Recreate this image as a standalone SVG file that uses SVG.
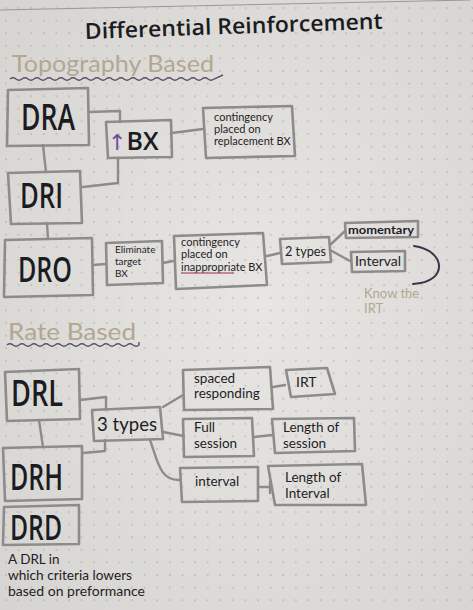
<svg xmlns="http://www.w3.org/2000/svg" width="473" height="610" viewBox="0 0 473 610">
<defs>
<pattern id="dots" width="12.6" height="12.6" patternUnits="userSpaceOnUse" x="4" y="6">
<circle cx="2" cy="2" r="0.8" fill="#aaa6a2"/>
</pattern>
<radialGradient id="bg" cx="0.55" cy="0.5" r="0.75">
<stop offset="0" stop-color="#e8e6e3"/>
<stop offset="1" stop-color="#d6d4d1"/>
</radialGradient>
<style>
.box{fill:none;stroke:#8d8c8a;stroke-width:2.6;stroke-linejoin:round}
.ln{fill:none;stroke:#8d8c8a;stroke-width:2.4;stroke-linecap:round;stroke-linejoin:round}
.big{font-family:"Open Sans","Liberation Sans",sans-serif;font-weight:600;fill:#1b1b22}
.sm{font-family:Lato,"Open Sans",sans-serif;fill:#1d1d26}
.md{font-family:Lato,"Open Sans",sans-serif;fill:#1d1d26}
.tan{font-family:Lato,"Open Sans",sans-serif;fill:#b2a792}
.wave{fill:none;stroke:#5e5066;stroke-width:1.4}
</style>
</defs>
<rect width="473" height="610" fill="url(#bg)"/>
<rect width="473" height="610" fill="url(#dots)"/>
<path d="M0,10 L470,0" stroke="#9a9896" stroke-width="1" fill="none"/>

<!-- headings -->
<text x="85" y="39" class="big" font-size="22" textLength="298" lengthAdjust="spacingAndGlyphs" transform="rotate(-2 85 39)" font-weight="700">Differential Reinforcement</text>
<text x="12" y="72" class="tan" font-size="23" textLength="202" lengthAdjust="spacingAndGlyphs">Topography Based</text>
<path class="wave" d="M10,79 q3,-2.5 6,0 t6,0 t6,0 t6,0 t6,0 t6,0 t6,0 t6,0 t6,0 t6,0 t6,0 t6,0 t6,0 t6,0 t6,0 t6,0 t6,0 t6,0 t6,0 t6,0 t6,0 t6,0 t6,0 t6,0 t6,0 t6,0 t6,0 t6,0 t6,0 t6,0 t6,0 t6,0 t6,0 t6,0 L223,75"/>
<text x="8" y="340" class="tan" font-size="23" textLength="128" lengthAdjust="spacingAndGlyphs">Rate Based</text>
<path class="wave" d="M7,345 q3,-2.5 6,0 t6,0 t6,0 t6,0 t6,0 t6,0 t6,0 t6,0 t6,0 t6,0 t6,0 t6,0 t6,0 t6,0 t6,0 t6,0 t6,0 t6,0 t6,0 t6,0 t6,0 t6,0 L139,342"/>

<!-- connectors -->
<g id="connectors">
<path class="ln" d="M89,112 L120,111 L120,122"/>
<path class="ln" d="M83,187 L118,183 L118,158"/>
<path class="ln" d="M43,145 L46,172"/>
<path class="ln" d="M172,133 L203,129"/>
<path class="ln" d="M47,223 L48,239"/>
<path class="ln" d="M93,265 L106,264"/>
<path class="ln" d="M163,263 L173,261"/>
<path class="ln" d="M267,256 L280,253"/>
<path class="ln" d="M330,245 L345,231"/>
<path class="ln" d="M330,250 L350,261"/>
<path d="M414,246 C445,250 450,282 413,284" fill="none" stroke="#3c3346" stroke-width="2" stroke-linecap="round"/>
<path class="ln" d="M80,400 L106,397 L106,409"/>
<path class="ln" d="M83,453 L105,451 L105,440"/>
<path class="ln" d="M39,420 L43,447"/>
<path class="ln" d="M163,407 L183,395"/>
<path class="ln" d="M163,432 L184,436"/>
<path class="ln" d="M150,440 C158,462 160,481 180,480"/>
<path class="ln" d="M273,387 L285,385"/>
<path class="ln" d="M254,437 L272,435"/>
<path class="ln" d="M259,487 L270,487 M270,482 L270,493"/>
</g>

<!-- topography nodes -->
<g id="DRA">
<path class="box" d="M8,90 L88,88 L89,145 L7,146 Z"/>
<text x="21" y="130" class="big" font-size="36" textLength="54" lengthAdjust="spacingAndGlyphs">DRA</text>
</g>
<g id="upBX">
<path class="box" d="M106,122 L171,120 L172,157 L108,158 Z"/>
<text x="108" y="150" class="big" font-size="25"><tspan font-family="DejaVu Sans,sans-serif" font-weight="400" font-size="22" fill="#6b4b98">↑</tspan>BX</text>
</g>
<g id="replacement">
<path class="box" d="M203,108 L292,106 L295,156 L206,158 Z"/>
<text x="214" y="121" class="sm" style="font-size:11px">contingency</text>
<text x="214" y="133" class="sm" style="font-size:11px">placed on</text>
<text x="214" y="145" class="sm" style="font-size:11px">replacement BX</text>
</g>
<g id="DRI">
<path class="box" d="M8,173 L80,171 L82,223 L11,224 Z"/>
<text x="20" y="208" class="big" font-size="35" textLength="43" lengthAdjust="spacingAndGlyphs">DRI</text>
</g>
<g id="DRO">
<path class="box" d="M5,240 L92,238 L93,295 L4,297 Z"/>
<text x="18" y="282" class="big" font-size="34" textLength="54" lengthAdjust="spacingAndGlyphs">DRO</text>
</g>
<g id="eliminate">
<path class="box" d="M106,243 L162,241 L163,283 L107,285 Z"/>
<text x="115" y="253" class="sm" style="font-size:10px">Eliminate</text>
<text x="115" y="265" class="sm" style="font-size:10px">target</text>
<text x="115" y="277" class="sm" style="font-size:10px">BX</text>
</g>
<g id="inappropriate">
<path class="box" d="M174,236 L263,233 L267,285 L176,289 Z"/>
<text x="181" y="246" class="sm" style="font-size:11px">contingency</text>
<text x="181" y="258" class="sm" style="font-size:11px">placed on</text>
<text x="181" y="271" class="sm" style="font-size:11px">inappropriate BX</text>
<path d="M181,273 L234,273" stroke="#a0304a" stroke-width="1" fill="none"/>
</g>
<g id="twoTypes">
<path class="box" d="M280,239 L329,237 L331,262 L282,264 Z"/>
<text x="285" y="256" class="md" style="font-size:13.5px" textLength="41" lengthAdjust="spacingAndGlyphs">2 types</text>
</g>
<g id="momentary">
<path class="box" d="M345,223 L418,221 L418,237 L346,238 Z"/>
<text x="348" y="234" class="sm" style="font-size:11.5px;font-weight:700" textLength="66" lengthAdjust="spacingAndGlyphs">momentary</text>
</g>
<g id="interval1">
<path class="box" d="M351,252 L405,251 L405,271 L352,272 Z"/>
<text x="355" y="266" class="md" style="font-size:13px" textLength="46" lengthAdjust="spacingAndGlyphs">Interval</text>
</g>
<text x="364" y="298" class="tan" style="font-size:13px">Know the</text>
<text x="364" y="313" class="tan" style="font-size:13px">IRT</text>

<!-- rate nodes -->
<g id="DRL">
<path class="box" d="M5,372 L79,369 L80,419 L7,421 Z"/>
<text x="11" y="406" class="big" font-size="36" textLength="52" lengthAdjust="spacingAndGlyphs">DRL</text>
</g>
<g id="threeTypes">
<path class="box" d="M92,410 L160,407 L163,439 L94,441 Z"/>
<text x="97" y="431" class="md" style="font-size:20px" textLength="60" lengthAdjust="spacingAndGlyphs">3 types</text>
</g>
<g id="DRH">
<path class="box" d="M3,448 L82,446 L82,499 L5,501 Z"/>
<text x="10" y="490" class="big" font-size="36" textLength="53" lengthAdjust="spacingAndGlyphs">DRH</text>
</g>
<g id="DRD">
<path class="box" d="M4,507 L79,505 L79,544 L3,545 Z"/>
<text x="10" y="540" class="big" font-size="35" textLength="52" lengthAdjust="spacingAndGlyphs">DRD</text>
</g>
<text x="8" y="564" class="md" style="font-size:13.5px">A DRL in</text>
<text x="8" y="580" class="md" style="font-size:13.5px" textLength="124" lengthAdjust="spacingAndGlyphs">which criteria lowers</text>
<text x="8" y="596" class="md" style="font-size:13.5px" textLength="137" lengthAdjust="spacingAndGlyphs">based on preformance</text>
<g id="spaced">
<path class="box" d="M183,370 L270,367 L273,409 L184,410 Z"/>
<text x="194" y="383" class="md" style="font-size:13.5px">spaced</text>
<text x="194" y="398" class="md" style="font-size:13.5px">responding</text>
</g>
<g id="IRT">
<path class="box" d="M286,370 L327,368 L335,394 L291,397 Z"/>
<text x="296" y="387" class="md" style="font-size:14px">IRT</text>
</g>
<g id="fullSession">
<path class="box" d="M183,419 L252,418 L254,456 L184,457 Z"/>
<text x="194" y="432" class="md" style="font-size:13.5px">Full</text>
<text x="194" y="448" class="md" style="font-size:13.5px">session</text>
</g>
<g id="lengthSession">
<path class="box" d="M272,419 L354,418 L355,451 L275,453 Z"/>
<text x="283" y="432" class="md" style="font-size:13.5px">Length of</text>
<text x="283" y="448" class="md" style="font-size:13.5px">session</text>
</g>
<g id="interval2">
<path class="box" d="M180,468 L258,467 L258,501 L182,502 Z"/>
<text x="195" y="486" class="md" style="font-size:13.5px">interval</text>
</g>
<g id="lengthInterval">
<path class="box" d="M268,466 L362,464 L366,505 L275,505 Z"/>
<text x="285" y="482" class="md" style="font-size:13.5px">Length of</text>
<text x="285" y="498" class="md" style="font-size:13.5px">Interval</text>
</g>
</svg>
